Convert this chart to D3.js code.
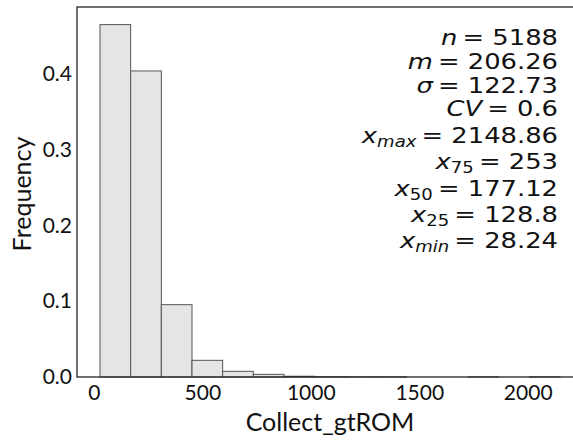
<!DOCTYPE html>
<html>
<head>
<meta charset="utf-8">
<script src="https://cdn.jsdelivr.net/npm/d3@7"></script>
<style>
  body { margin: 0; background: #fff; }
  svg { display: block; }
</style>
</head>
<body>
<svg id="chart"></svg>
<script>
"use strict";

// histogram data (15 equal bins between min and max)
const xMin = 28.24;
const xMax = 2148.86;
const binCount = 15;
const binFreq = [0.4648, 0.4037, 0.0954, 0.0220, 0.0075, 0.0035, 0.0010,
                 0.0004, 0.0002, 0.0002, 0.0000, 0.0000, 0.0002, 0.0000, 0.0002];

const xTicks = [0, 500, 1000, 1500, 2000];
const yTicks = [0.0, 0.1, 0.2, 0.3, 0.4];

// summary text lines
const statSymbols = ["n", "m", "σ", "CV", "x", "x", "x", "x", "x"];
const statSubs = ["", "", "", "", "max", "75", "50", "25", "min"];
const statValues = ["5188", "206.26", "122.73", "0.6", "2148.86", "253", "177.12", "128.8", "28.24"];

const width = 573;
const height = 441;
const plotLeft = 77, plotRight = 583, plotTop = 7, plotBottom = 377;

const svg = d3.select("#chart")
    .attr("width", width)
    .attr("height", height);

// matplotlib-style 5% margins on x
const pad = (xMax - xMin) * 0.05;
const x = d3.scaleLinear()
    .domain([xMin - pad, xMax + pad])
    .range([plotLeft, plotRight]);

const y = d3.scaleLinear()
    .domain([0, d3.max(binFreq) * 1.05])
    .range([plotBottom, plotTop]);

const binWidth = (xMax - xMin) / binCount;
const bins = binFreq.map((f, i) => ({x0: xMin + i * binWidth, x1: xMin + (i + 1) * binWidth, f: f}));

// bars
svg.append("g")
    .selectAll("rect")
    .data(bins)
    .join("rect")
    .attr("x", d => x(d.x0))
    .attr("y", d => y(d.f))
    .attr("width", d => x(d.x1) - x(d.x0))
    .attr("height", d => y(0) - y(d.f))
    .attr("fill", "#e5e5e5")
    .attr("stroke", "#555")
    .attr("stroke-width", 1);

// axes (labels only, no tick marks)
const tickFont = "Lato, 'Open Sans', sans-serif";

svg.append("g")
    .attr("transform", `translate(0,${plotBottom})`)
    .call(d3.axisBottom(x).tickValues(xTicks).tickSize(0).tickPadding(8).tickFormat(d3.format("d")))
    .call(g => g.select(".domain").remove())
    .call(g => g.selectAll("text")
        .attr("font-family", tickFont)
        .attr("font-size", 21)
        .attr("fill", "#111"));

svg.append("g")
    .attr("transform", `translate(${plotLeft},0)`)
    .call(d3.axisLeft(y).tickValues(yTicks).tickSize(0).tickPadding(5).tickFormat(d3.format(".1f")))
    .call(g => g.select(".domain").remove())
    .call(g => g.selectAll("text")
        .attr("font-family", tickFont)
        .attr("font-size", 21)
        .attr("fill", "#111"));

// frame
svg.append("rect")
    .attr("x", plotLeft)
    .attr("y", plotTop)
    .attr("width", plotRight - plotLeft)
    .attr("height", plotBottom - plotTop)
    .attr("fill", "none")
    .attr("stroke", "#222")
    .attr("stroke-width", 1.3);

// axis titles
svg.append("text")
    .attr("x", (plotLeft + plotRight) / 2)
    .attr("y", 431)
    .attr("text-anchor", "middle")
    .attr("font-family", tickFont)
    .attr("font-size", 25)
    .attr("fill", "#111")
    .text("Collect_gtROM");

svg.append("text")
    .attr("transform", `translate(31,194) rotate(-90)`)
    .attr("text-anchor", "middle")
    .attr("font-family", tickFont)
    .attr("font-size", 25)
    .attr("fill", "#111")
    .text("Frequency");

// summary statistics block
const statFont = "'DejaVu Sans', sans-serif";
const statSize = 21.5;
const statRight = 558;
let baseline = 45;

const statG = svg.append("g")
    .attr("transform", `translate(${statRight},0) scale(1.2,1)`);

statSymbols.forEach((sym, i) => {
    if (i > 0) baseline += statSubs[i] ? 26.4 : 23.8;
    const t = statG.append("text")
        .attr("x", 0)
        .attr("y", baseline)
        .attr("text-anchor", "end")
        .attr("font-family", statFont)
        .attr("font-size", statSize)
        .attr("fill", "#111");
    t.append("tspan")
        .attr("font-style", "italic")
        .text(sym);
    if (statSubs[i]) {
        t.append("tspan")
            .attr("font-size", statSize * 0.7)
            .attr("font-style", /\d/.test(statSubs[i]) ? "normal" : "italic")
            .attr("dy", 4)
            .text(statSubs[i]);
        t.append("tspan")
            .attr("dy", -4)
            .text("\u2009= " + statValues[i]);
    } else {
        t.append("tspan")
            .text("\u2009= " + statValues[i]);
    }
});
</script>
</body>
</html>
